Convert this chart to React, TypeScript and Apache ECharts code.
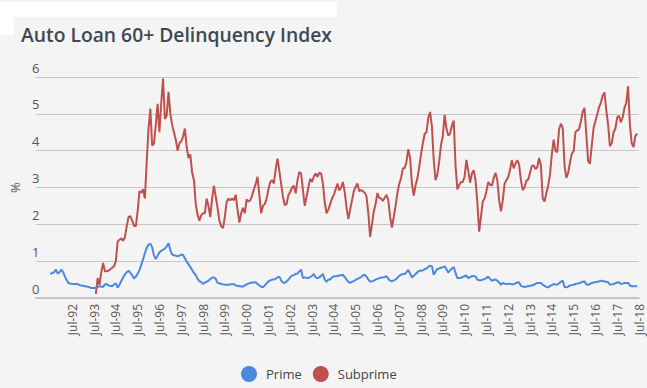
import React, { useEffect, useRef } from "react";
import * as echarts from "echarts";

// Axis runs monthly from Nov-1990 to Jul-2018
const MONTHS = ["Jan","Feb","Mar","Apr","May","Jun","Jul","Aug","Sep","Oct","Nov","Dec"];
const AXIS_START_YEAR = 1990;
const AXIS_START_MONTH = 10; // Nov (0-based)
const AXIS_MONTH_COUNT = 333;
const FIRST_LABEL = "Jul-92";

const yTicks = [0, 1, 2, 3, 4, 5, 6];

const primeStart = "Jul-91";
const prime = [
  0.65,0.68,0.70,0.77,0.66,0.70,
  0.77,0.70,0.58,0.48,0.40,0.39,0.38,0.38,0.38,0.38,0.35,0.34,
  0.33,0.32,0.31,0.30,0.28,0.27,0.27,0.27,0.30,0.32,0.31,0.30,
  0.37,0.38,0.34,0.33,0.32,0.37,0.40,0.28,0.36,0.46,0.56,0.64,
  0.70,0.74,0.68,0.62,0.53,0.58,0.66,0.75,0.90,1.05,1.22,1.36,
  1.45,1.47,1.38,1.15,1.06,1.15,1.24,1.28,1.31,1.34,1.40,1.49,
  1.30,1.18,1.16,1.15,1.13,1.15,1.18,1.17,1.08,0.99,0.92,0.84,
  0.76,0.68,0.62,0.52,0.46,0.43,0.38,0.42,0.44,0.47,0.52,0.55,
  0.56,0.52,0.41,0.40,0.38,0.37,0.36,0.36,0.36,0.37,0.37,0.38,
  0.34,0.33,0.32,0.31,0.31,0.34,0.37,0.39,0.41,0.42,0.42,0.43,
  0.38,0.34,0.31,0.29,0.34,0.40,0.45,0.48,0.50,0.50,0.52,0.56,
  0.58,0.48,0.42,0.41,0.45,0.50,0.56,0.61,0.62,0.66,0.66,0.72,
  0.77,0.54,0.56,0.55,0.54,0.57,0.60,0.65,0.56,0.54,0.56,0.60,
  0.65,0.50,0.44,0.50,0.50,0.56,0.59,0.59,0.60,0.61,0.62,0.63,
  0.57,0.50,0.44,0.41,0.44,0.46,0.49,0.52,0.54,0.57,0.61,0.63,
  0.58,0.50,0.45,0.45,0.47,0.50,0.52,0.54,0.55,0.56,0.57,0.59,
  0.52,0.47,0.45,0.48,0.50,0.55,0.60,0.63,0.65,0.65,0.70,0.76,
  0.66,0.56,0.60,0.65,0.70,0.74,0.74,0.75,0.78,0.80,0.84,0.88,
  0.86,0.63,0.72,0.79,0.80,0.82,0.84,0.86,0.78,0.69,0.75,0.80,
  0.84,0.68,0.54,0.54,0.55,0.57,0.59,0.61,0.54,0.57,0.59,0.60,
  0.58,0.50,0.48,0.48,0.50,0.52,0.54,0.58,0.52,0.47,0.49,0.50,
  0.47,0.42,0.36,0.41,0.39,0.38,0.38,0.39,0.37,0.37,0.40,0.42,
  0.43,0.33,0.31,0.30,0.31,0.32,0.33,0.34,0.36,0.38,0.41,0.41,
  0.41,0.36,0.33,0.30,0.29,0.32,0.35,0.38,0.37,0.36,0.40,0.44,
  0.47,0.30,0.29,0.31,0.34,0.35,0.36,0.38,0.39,0.40,0.42,0.44,
  0.45,0.37,0.36,0.38,0.41,0.42,0.43,0.44,0.45,0.47,0.46,0.45,
  0.44,0.43,0.36,0.37,0.38,0.40,0.42,0.43,0.38,0.39,0.41,0.41,
  0.41,0.34,0.32,0.32,0.32,0.32,
];

const subprimeStart = "Aug-93";
const subprime = [
  0.11,0.54,0.36,0.70,0.95,
  0.72,0.73,0.74,0.78,0.82,0.86,1.00,1.53,1.58,1.62,1.55,1.65,
  1.95,2.20,2.22,2.10,1.96,1.95,2.35,2.90,2.86,2.95,2.70,3.70,
  4.60,5.14,4.14,4.19,4.70,5.27,4.50,5.30,5.96,4.86,4.95,5.60,
  5.00,4.70,4.50,4.30,4.00,4.20,4.25,4.38,4.60,4.10,3.80,3.90,
  3.40,3.20,2.55,2.25,2.10,2.25,2.30,2.30,2.70,2.50,2.20,2.70,
  3.05,2.75,2.45,2.10,1.95,1.90,2.20,2.60,2.70,2.65,2.70,2.65,
  2.80,2.40,2.05,2.30,2.45,2.30,2.68,2.62,2.65,2.78,2.95,3.10,
  3.29,2.80,2.30,2.50,2.55,2.70,2.95,3.15,3.20,3.11,3.50,3.78,
  3.45,3.10,2.75,2.52,2.55,2.80,2.88,3.00,3.05,2.84,3.20,3.42,
  3.38,2.93,2.50,2.75,3.00,3.24,3.15,3.30,3.38,3.29,3.40,3.38,
  3.10,2.60,2.30,2.40,2.55,2.70,2.80,2.95,3.11,2.92,3.00,3.15,
  2.88,2.45,2.14,2.40,2.65,2.90,3.02,3.11,2.90,2.93,2.90,2.86,
  2.76,2.30,1.66,2.00,2.35,2.55,2.85,2.72,2.70,2.64,2.72,2.80,
  2.65,2.20,1.91,2.20,2.50,2.85,3.10,3.25,3.52,3.52,3.70,4.04,
  3.80,3.10,2.78,3.06,3.25,3.55,3.90,4.20,4.46,4.50,4.90,5.05,
  4.65,3.75,3.20,3.35,3.70,4.15,4.40,4.97,4.60,4.41,4.46,4.68,
  4.82,3.60,2.95,3.06,3.15,3.15,3.30,3.75,3.45,3.13,3.38,3.47,
  3.20,2.60,1.80,2.20,2.62,2.70,2.90,3.15,3.08,3.05,3.25,3.40,
  3.20,2.65,2.35,2.65,3.10,3.20,3.28,3.48,3.74,3.52,3.65,3.74,
  3.62,3.20,2.93,3.00,3.18,3.22,3.40,3.58,3.60,3.50,3.55,3.80,
  3.60,2.70,2.62,2.85,3.05,3.35,3.90,4.30,4.00,3.96,4.58,4.73,
  4.62,3.60,3.26,3.40,3.68,3.92,3.98,4.50,4.55,4.58,4.80,5.05,
  5.16,4.45,3.72,3.65,4.14,4.62,4.80,4.98,5.18,5.30,5.50,5.58,
  5.10,4.70,4.12,4.20,4.50,4.60,4.90,4.95,4.77,4.90,5.16,5.30,
  5.75,4.70,4.20,4.10,4.40,4.46,
];

const categories: string[] = [];
for (let i = 0; i < AXIS_MONTH_COUNT; i++) {
  const t = AXIS_START_MONTH + i;
  const m = t % 12;
  const y = AXIS_START_YEAR + Math.floor(t / 12);
  categories.push(`${MONTHS[m]}-${String(y % 100).padStart(2, "0")}`);
}
const firstLabelIdx = categories.indexOf(FIRST_LABEL);

function align(values: number[], start: string) {
  const s = categories.indexOf(start);
  return categories.map((_, i) => {
    const k = i - s;
    return k >= 0 && k < values.length ? values[k] : null;
  });
}

const FONT = "'Open Sans', 'Noto Sans', sans-serif";

export default function App() {
  const ref = useRef<HTMLDivElement>(null);
  useEffect(() => {
    if (!ref.current) return;
    const chart = echarts.init(ref.current, null, { renderer: "svg" });
    chart.setOption({
      animation: false,
      backgroundColor: "#f4f4f4",
      textStyle: { fontFamily: FONT },
      graphic: [
        { type: "rect", left: 0, top: 2, shape: { width: 337, height: 15 }, style: { fill: "#ffffff" }, silent: true },
        { type: "rect", left: 0, top: 2, shape: { width: 14, height: 33 }, style: { fill: "#ffffff" }, silent: true },
        {
          type: "text",
          x: 21,
          y: 24,
          scaleX: 0.965,
          silent: true,
          style: {
            text: "Auto Loan 60+ Delinquency Index",
            fontFamily: FONT,
            fontSize: 20,
            fontWeight: 600,
            fill: "#3e4852",
            verticalAlign: "top",
          },
        },
      ],
      legend: {
        data: ["Prime", "Subprime"],
        left: 241,
        top: 366,
        padding: 0,
        icon: "circle",
        itemWidth: 16,
        itemHeight: 16,
        itemGap: 11,
        textStyle: { fontFamily: FONT, fontSize: 13, color: "#444", padding: [0, 0, 0, 4] },
      },
      grid: { left: 29, right: 8, top: 77, bottom: 90, containLabel: false },
      xAxis: {
        type: "category",
        data: categories,
        boundaryGap: false,
        axisLine: { lineStyle: { color: "#bdbdbd", width: 1.5 } },
        axisTick: { show: false },
        axisLabel: {
          rotate: 90,
          margin: 6,
          fontSize: 12,
          color: "#555",
          fontFamily: FONT,
          interval: (i: number, v: string) => i >= firstLabelIdx && v.startsWith("Jul"),
        },
        splitLine: { show: false },
      },
      yAxis: {
        type: "value",
        min: yTicks[0],
        max: yTicks[yTicks.length - 1],
        interval: 1,
        name: "%",
        nameLocation: "middle",
        nameRotate: 90,
        nameGap: 14,
        nameTextStyle: { fontSize: 13, color: "#555", fontFamily: FONT },
        axisLine: { show: false },
        axisTick: { show: false },
        axisLabel: {
          inside: true,
          margin: -4,
          align: "left",
          verticalAlign: "bottom",
          padding: [0, 0, 3, 0],
          fontSize: 13,
          color: "#555",
          fontFamily: FONT,
        },
        splitLine: { lineStyle: { color: "#c6c6c6", width: 1.2 } },
      },
      series: [
        {
          name: "Prime",
          type: "line",
          data: align(prime, primeStart),
          showSymbol: false,
          symbol: "circle",
          color: "#4a89dc",
          lineStyle: { width: 2, color: "#4a89dc" },
          z: 3,
        },
        {
          name: "Subprime",
          type: "line",
          data: align(subprime, subprimeStart),
          showSymbol: false,
          symbol: "circle",
          color: "#c0504d",
          lineStyle: { width: 2, color: "#c0504d" },
          z: 2,
        },
      ],
    });
    return () => chart.dispose();
  }, []);
  return (
    <div
      ref={ref}
      style={{ position: "fixed", left: 0, top: 0, width: 647, height: 388 }}
    />
  );
}
